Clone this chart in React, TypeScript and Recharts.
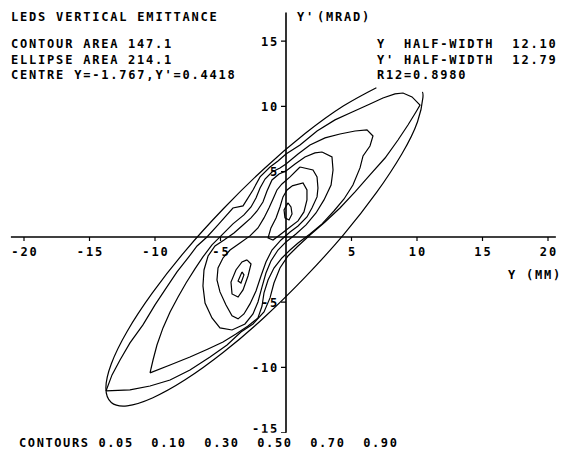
import React from 'react';
import { ComposedChart, Line, Scatter, XAxis, YAxis, ReferenceLine } from 'recharts';

const xTicks = [-20, -15, -10, -5, 5, 10, 15, 20];
const yTicks = [-15, -10, -5, 5, 10, 15];
const contourLevels = ['0.05', '0.10', '0.30', '0.50', '0.70', '0.90'];

const ellipse: [number, number][] = [
  [6.90, 11.44], [4.40, 10.05], [1.48, 7.94], [-1.65, 5.25], [-4.78, 2.16], [-7.70, -1.08],
  [-10.20, -4.29], [-12.13, -7.24], [-13.34, -9.73], [-13.75, -11.58], [-13.34, -12.68],
  [-12.13, -12.94], [-10.20, -12.34], [-7.70, -10.95], [-4.78, -8.84], [-1.65, -6.15],
  [1.48, -3.06], [4.40, 0.18], [6.90, 3.39], [8.83, 6.34], [10.04, 8.83], [10.45, 10.68], [10.40, 11.1],
];

const c005: [number, number][] = [
  [-13.74, -11.80], [-13.28, -10.57], [-12.67, -9.43], [-11.91, -8.12], [-10.92, -6.74], [-10.00, -5.21],
  [-9.24, -4.06], [-8.32, -2.68], [-7.48, -1.61], [-6.79, -0.69], [-6.03, 0], [-5.19, 0.92], [-4.05, 2.22],
  [-3.28, 2.38], [-2.52, 3.60], [-1.98, 4.60], [-1.22, 5.36], [-0.61, 5.82], [0, 6.36], [1.07, 7.05],
  [2.37, 8.12], [3.74, 8.97], [4.89, 9.50], [6.41, 10.19], [7.40, 10.65], [8.32, 10.96], [8.93, 11.03],
  [9.62, 10.73], [10.23, 10.11], [9.92, 9.58], [9.31, 8.58], [8.55, 7.43], [7.56, 6.05], [6.41, 4.75],
  [5.27, 3.45], [4.12, 2.22], [2.98, 1.15], [1.83, 0.15], [0.92, -0.69], [0.15, -1.46], [-0.46, -2.38],
  [-0.92, -3.53], [-1.22, -4.67], [-1.68, -5.75], [-2.52, -6.67], [-3.44, -7.28], [-4.50, -8.28],
  [-5.80, -9.20], [-7.33, -10.19], [-8.85, -10.96], [-10.38, -11.42], [-11.91, -11.72],
];

const c010: [number, number][] = [
  [-10.38, -10.42], [-10.15, -9.43], [-9.85, -8.28], [-9.39, -6.97], [-8.85, -5.75], [-8.24, -4.60],
  [-7.63, -3.53], [-6.95, -2.45], [-6.34, -1.53], [-5.65, -0.61], [-4.96, 0.08], [-4.05, 1.00],
  [-3.21, 1.69], [-2.67, 2.30], [-2.29, 2.99], [-1.98, 3.75], [-1.60, 4.44], [-1.07, 4.98], [-0.46, 5.29],
  [0, 5.59], [0.92, 6.36], [1.83, 7.05], [2.98, 7.59], [4.12, 7.89], [5.27, 8.12], [6.18, 8.20],
  [6.64, 7.74], [6.41, 6.97], [5.88, 6.21], [5.65, 5.29], [5.11, 3.98], [4.43, 2.91], [3.66, 1.99],
  [2.75, 1.00], [1.83, 0.23], [0.92, -0.46], [0.31, -1.00], [-0.31, -1.61], [-0.92, -2.38],
  [-1.37, -3.30], [-1.68, -4.29], [-1.83, -5.29], [-2.14, -6.21], [-2.90, -6.82], [-3.82, -7.43],
  [-4.81, -8.05], [-5.95, -8.58], [-7.33, -9.20], [-8.85, -9.81],
];

const c030: [number, number][] = [
  [2.75, 6.51], [3.51, 6.13], [3.59, 5.13], [3.44, 3.98], [2.90, 2.84], [2.29, 1.84], [1.53, 0.92],
  [0.76, 0.23], [0, -0.38], [-0.61, -1.00], [-1.15, -1.84], [-1.53, -2.76], [-1.83, -3.83],
  [-2.14, -4.98], [-2.52, -5.90], [-3.13, -6.67], [-4.12, -7.13], [-5.04, -6.97], [-5.65, -6.21],
  [-6.18, -5.06], [-6.34, -3.75], [-6.26, -2.53], [-5.95, -1.46], [-5.42, -0.69], [-4.73, -0.23],
  [-3.97, 0.31], [-3.28, 0.92], [-2.67, 1.46], [-2.21, 1.99], [-1.76, 2.68], [-1.45, 3.52],
  [-1.07, 4.37], [-0.53, 4.83], [0, 5.06], [0.69, 5.59], [1.45, 6.13], [2.21, 6.44],
];

const c050: [number, number][] = [
  [1.07, 5.36], [2.06, 5.13], [2.37, 4.60], [2.44, 3.75], [2.37, 3.07], [1.98, 2.22], [1.60, 1.53],
  [0.92, 0.84], [0.31, 0.38], [-0.38, -0.23], [-1.07, -1.00], [-1.53, -1.92], [-1.91, -2.99],
  [-2.29, -4.14], [-2.75, -5.13], [-3.21, -5.90], [-3.66, -6.28], [-4.12, -6.05], [-4.58, -5.21],
  [-5.04, -4.21], [-5.27, -3.30], [-5.19, -2.38], [-4.81, -1.61], [-4.27, -1.00], [-3.51, -0.46],
  [-2.75, 0.08], [-2.14, 0.69], [-1.68, 1.46], [-1.30, 2.22], [-0.99, 2.91], [-0.69, 3.60],
  [-0.31, 4.06], [0.31, 4.60],
];

const c070a: [number, number][] = [
  [0.46, 3.91], [1.30, 4.14], [1.60, 3.60], [1.60, 2.84], [1.37, 1.92], [0.92, 1.23], [0.31, 0.77],
  [-0.38, 0.23], [-0.99, -0.23], [-1.37, -0.08], [-1.15, 0.69], [-0.76, 1.46], [-0.46, 2.30],
  [-0.23, 3.07], [0.08, 3.60],
];

const c070b: [number, number][] = [
  [-2.98, -1.76], [-2.67, -2.07], [-2.90, -2.99], [-3.28, -4.06], [-3.66, -4.60], [-4.12, -4.37],
  [-4.20, -3.45], [-3.82, -2.53], [-3.36, -1.92],
];

const c090a: [number, number][] = [
  [0.15, 2.61], [0.38, 2.30], [0.46, 1.76], [0.23, 1.30], [-0.08, 1.46], [-0.15, 2.07],
];

const c090b: [number, number][] = [
  [-3.36, -2.68], [-3.21, -2.91], [-3.44, -3.53], [-3.66, -3.37],
];

const toPts = (a: [number, number][]) => a.map(([x, y]) => ({ x, y }));
const closed = (a: [number, number][]) => toPts([...a, a[0]]);

const contours = [c005, c010, c030, c050, c070a, c070b, c090a, c090b];

const FONT = "'DejaVu Sans Mono', monospace";
const txt: React.CSSProperties = { whiteSpace: 'pre' };

const xTickData = xTicks.map((v) => ({ x: v, y: 0, label: String(v) }));
const yTickData = yTicks.map((v) => ({ x: 0, y: v, label: String(v) }));

const XTick = (props: any) => {
  const { cx, cy, payload } = props;
  return (
    <g>
      <line x1={cx} y1={cy} x2={cx} y2={cy + 4} stroke="#000" strokeWidth={1.2} />
      <text x={cx + 0.9} y={cy + 19.5} textAnchor="middle" fontFamily={FONT} fontSize={12}
        fontWeight="bold" letterSpacing={1.8} fill="#000">{payload.label}</text>
    </g>
  );
};

const YTick = (props: any) => {
  const { cx, cy, payload } = props;
  const isLast = payload.y === yTicks[0];
  return (
    <g>
      <line x1={cx - 5} y1={cy} x2={cx} y2={cy} stroke="#000" strokeWidth={1.2} />
      <text x={cx - 7} y={isLast ? cy + 0.5 : cy + 4.5} textAnchor="end" fontFamily={FONT} fontSize={12}
        fontWeight="bold" letterSpacing={1.8} fill="#000">{payload.label}</text>
    </g>
  );
};

const T = ({ x, y, ls = 1.8, children }: { x: number; y: number; ls?: number; children: string }) => (
  <text x={x} y={y} fontFamily={FONT} fontSize={12} fontWeight="bold" letterSpacing={ls} fill="#000" style={txt}>
    {children}
  </text>
);

export default function App() {
  return (
    <div style={{ position: 'absolute', left: 0, top: 0, width: 567, height: 449, background: '#fff' }}>
      <ComposedChart width={567} height={449}
        margin={{ top: 12.5, right: 5.9, bottom: 16.3, left: 10.9 }}>
        <XAxis type="number" dataKey="x" domain={[-21, 21]} hide allowDataOverflow />
        <YAxis type="number" dataKey="y" domain={[-15, 17.2]} hide allowDataOverflow />
        <ReferenceLine segment={[{ x: -21, y: 0 }, { x: 20.6, y: 0 }]} stroke="#000" strokeWidth={1.6} />
        <ReferenceLine segment={[{ x: 0, y: -15 }, { x: 0, y: 17.2 }]} stroke="#000" strokeWidth={1.6} />
        <Line data={toPts(ellipse)} dataKey="y" type="natural" dot={false} stroke="#000"
          strokeWidth={1.2} isAnimationActive={false} />
        {contours.map((c, i) => (
          <Line key={i} data={closed(c)} dataKey="y" type="linear" dot={false} stroke="#000"
            strokeWidth={1.2} isAnimationActive={false} />
        ))}
        <Scatter data={xTickData} shape={XTick} isAnimationActive={false} />
        <Scatter data={yTickData} shape={YTick} isAnimationActive={false} />
      </ComposedChart>
      <svg width={567} height={449} style={{ position: 'absolute', left: 0, top: 0, pointerEvents: 'none' }}>
        <T x={11} y={21}>LEDS VERTICAL EMITTANCE</T>
        <T x={11} y={48}>CONTOUR AREA</T>
        <T x={128} y={48}>147.1</T>
        <T x={11} y={63.5}>ELLIPSE AREA</T>
        <T x={128} y={63.5}>214.1</T>
        <T x={11} y={79}>CENTRE Y=-1.767,Y'=0.4418</T>
        <T x={297} y={21}>Y'</T>
        <T x={317} y={21}>(MRAD)</T>
        <T x={377} y={48}>Y  HALF-WIDTH  12.10</T>
        <T x={377} y={63.5}>Y' HALF-WIDTH  12.79</T>
        <T x={377} y={79}>R12=0.8980</T>
        <T x={508} y={279}>Y (MM)</T>
        <T x={19} y={446.5} ls={1.6}>{'CONTOURS ' + contourLevels.join('  ')}</T>
      </svg>
    </div>
  );
}
